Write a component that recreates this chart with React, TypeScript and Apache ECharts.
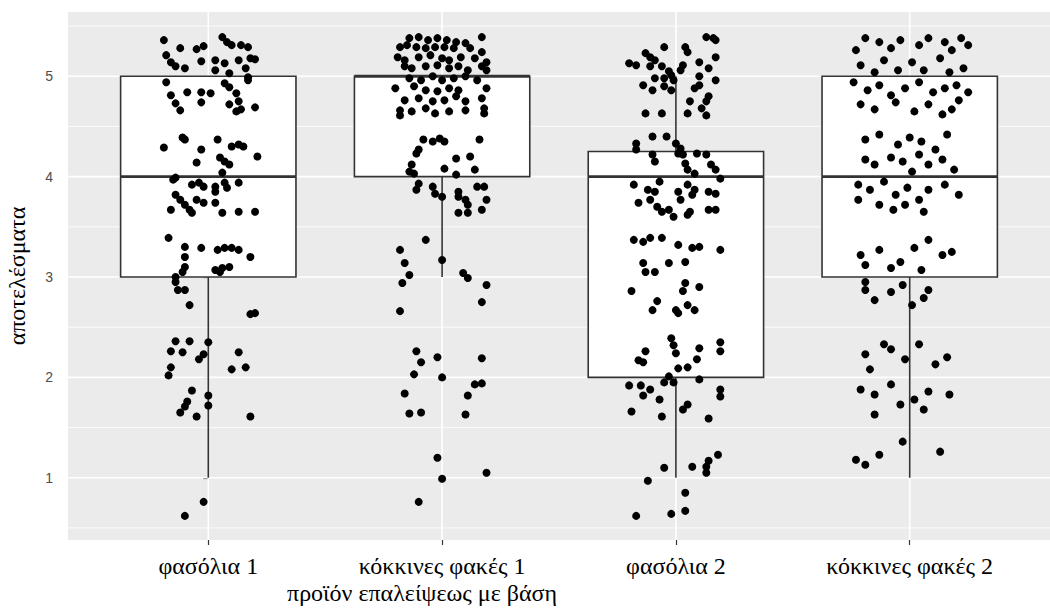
import React, { useEffect, useRef } from "react";
import * as echarts from "echarts";

const categories = ["φασόλια 1", "κόκκινες φακές 1", "φασόλια 2", "κόκκινες φακές 2"];
const xTitle = "προϊόν επαλείψεως με βάση";
const yTitle = "αποτελέσματα";
const yMajor = [1, 2, 3, 4, 5];
const yMinor = [0.5, 1.5, 2.5, 3.5, 4.5, 5.5];

// [category index, lower whisker, q1, median, q3, upper whisker]
const boxStats = [
  [0, 1, 3, 4, 5, 5],
  [1, 3, 4, 5, 5, 5],
  [2, 1, 2, 4, 4.25, 5],
  [3, 1, 3, 4, 5, 5],
];

// jittered points: [horizontal jitter offset, value]
const g1 = [
  [-0.19,5.36],[-0.12,5.28],[-0.05,5.27],[-0.02,5.30],[0.06,5.39],[0.08,5.34],[0.10,5.31],[0.14,5.31],[0.17,5.29],
  [-0.18,5.21],[-0.16,5.14],[-0.14,5.10],[-0.10,5.08],[-0.03,5.15],[0.03,5.16],[0.03,5.06],[0.07,5.13],[0.09,5.03],[0.13,5.16],[0.18,5.18],[0.20,5.17],[0.16,5.08],[0.17,4.99],[0.17,4.96],
  [-0.18,4.94],[-0.16,4.81],[-0.14,4.73],[-0.12,4.66],[-0.09,4.84],[-0.03,4.84],[0.01,4.83],[-0.03,4.74],[0.07,4.93],[0.09,4.89],[0.12,4.83],[0.09,4.72],[0.13,4.75],[0.14,4.67],[0.12,4.65],[0.20,4.69],
  [-0.11,4.39],[-0.10,4.37],[-0.19,4.29],[-0.03,4.27],[0.04,4.37],[0.10,4.30],[0.13,4.32],[0.15,4.30],[-0.05,4.14],[0.05,4.19],[0.07,4.15],[0.09,4.12],[0.21,4.20],[0.06,4.04],
  [-0.15,3.97],[-0.14,3.99],[-0.07,3.92],[-0.04,3.94],[-0.02,3.90],[0.03,3.90],[0.03,3.85],[0.07,3.94],[0.08,3.89],[0.13,3.94],[-0.14,3.82],[-0.12,3.77],[-0.10,3.72],[-0.08,3.67],[-0.07,3.64],[-0.05,3.77],[-0.02,3.74],[0.03,3.74],[-0.16,3.67],[0.06,3.64],[0.13,3.65],[0.20,3.65],
  [-0.17,3.39],[-0.10,3.30],[-0.10,3.20],[-0.10,3.10],[-0.03,3.29],[0.04,3.27],[0.07,3.29],[0.10,3.29],[0.13,3.27],[0.18,3.20],[0.03,3.07],[0.06,3.09],[0.09,3.10],
  [-0.14,3.00],[-0.11,3.05],[-0.14,2.95],[-0.13,2.87],[-0.10,2.87],[0.05,3.05],[-0.08,2.72],[0.18,2.63],[0.20,2.64],
  [-0.14,2.36],[-0.08,2.36],[0.00,2.35],[-0.16,2.26],[-0.11,2.25],[-0.04,2.18],[-0.02,2.23],[0.13,2.25],[-0.16,2.10],[-0.17,2.02],[0.10,2.08],[0.16,2.10],
  [-0.07,1.87],[-0.09,1.76],[-0.10,1.71],[-0.12,1.65],[0.00,1.82],[0.00,1.72],[-0.05,1.61],[0.18,1.61],[-0.02,0.76],[-0.10,0.62],
];

const g2 = [
  [-0.14,5.38],[-0.10,5.39],[-0.06,5.36],[-0.02,5.38],[0.02,5.36],[0.06,5.34],[0.10,5.33],[0.17,5.39],
  [-0.18,5.29],[-0.15,5.31],[-0.11,5.29],[-0.07,5.28],[-0.03,5.29],[0.01,5.29],[0.05,5.28],[0.12,5.28],[0.17,5.24],
  [-0.19,5.19],[-0.16,5.16],[-0.10,5.19],[-0.05,5.21],[0.00,5.18],[0.03,5.16],[0.08,5.19],[0.14,5.18],[0.19,5.14],
  [-0.16,5.10],[-0.13,5.08],[-0.07,5.10],[-0.02,5.11],[0.03,5.08],[0.07,5.10],[0.11,5.06],[0.17,5.10],[0.19,5.06],
  [-0.14,4.98],[-0.09,4.96],[-0.04,5.00],[0.00,4.96],[0.05,4.98],[0.10,5.00],[0.15,4.96],
  [-0.20,4.88],[-0.12,4.90],[-0.07,4.86],[-0.02,4.85],[0.03,4.88],[0.07,4.86],[0.19,4.88],
  [-0.16,4.76],[-0.10,4.78],[-0.04,4.75],[0.01,4.76],[0.06,4.80],[0.10,4.75],[0.17,4.78],
  [-0.18,4.66],[-0.13,4.65],[-0.07,4.68],[-0.03,4.63],[0.03,4.65],[0.10,4.66],[0.18,4.68],[-0.18,4.61],[0.18,4.63],
  [-0.08,4.37],[-0.04,4.35],[-0.01,4.38],[0.01,4.35],[-0.10,4.27],[-0.11,4.23],[0.16,4.37],[0.06,4.18],[0.12,4.20],[-0.13,4.12],[-0.14,4.05],[-0.12,4.03],[0.01,4.08],[0.06,4.02],[0.14,4.07],
  [-0.10,3.93],[-0.11,3.87],[-0.04,3.90],[-0.03,3.83],[0.00,3.80],[0.07,3.85],[0.07,3.80],[0.10,3.77],[0.11,3.72],[0.15,3.90],[0.18,3.90],[0.19,3.77],[0.07,3.64],[0.11,3.64],[0.17,3.67],
  [-0.07,3.37],[-0.18,3.27],[-0.16,3.14],[0.00,3.17],
  [-0.14,3.02],[-0.17,2.94],[0.09,3.04],[0.11,2.99],[0.19,2.92],[0.17,2.75],[-0.18,2.66],[-0.11,2.26],[-0.09,2.15],[-0.02,2.20],[-0.12,2.03],[0.00,2.00],[0.17,2.19],[0.14,1.93],[0.17,1.94],[-0.16,1.84],[0.11,1.82],[-0.14,1.64],[-0.09,1.65],[0.10,1.63],[-0.02,1.20],[0.00,0.99],[0.19,1.05],[-0.10,0.76],
];

const g3 = [
  [0.13,5.39],[0.16,5.38],[0.17,5.36],[-0.05,5.29],[0.04,5.29],[0.05,5.24],[-0.13,5.23],[-0.11,5.19],[-0.09,5.16],[0.17,5.19],[-0.20,5.13],[-0.17,5.11],[-0.11,5.10],[-0.06,5.10],[-0.03,5.05],[0.02,5.06],[0.03,5.11],[0.10,5.14],[0.14,5.08],
  [-0.09,4.98],[-0.05,4.98],[-0.02,5.01],[-0.01,4.96],[0.10,5.00],[0.17,4.96],[-0.14,4.91],[-0.10,4.86],[-0.05,4.90],[-0.02,4.86],[0.08,4.88],[0.10,4.91],[0.06,4.75],[0.14,4.80],[0.13,4.75],[0.11,4.68],[0.13,4.61],[-0.13,4.63],[-0.06,4.63],[0.05,4.63],[-0.10,4.40],[-0.04,4.40],
  [-0.17,4.33],[-0.17,4.27],[-0.10,4.22],[-0.09,4.15],[0.00,4.33],[0.02,4.28],[0.01,4.23],[0.03,4.22],[0.04,4.13],[0.09,4.23],[0.13,4.22],[0.15,4.12],[0.17,4.07],[0.05,4.07],[0.08,4.03],[0.19,3.98],
  [-0.18,3.92],[-0.12,3.87],[-0.07,3.95],[-0.09,3.85],[0.01,3.85],[0.02,3.77],[0.05,3.92],[0.08,3.87],[0.07,3.82],[0.14,3.85],[0.17,3.83],[-0.16,3.74],[-0.11,3.77],[-0.08,3.70],[-0.06,3.65],[-0.03,3.67],[-0.01,3.60],[0.05,3.62],[0.06,3.65],[0.14,3.67],[0.17,3.67],
  [-0.18,3.37],[-0.14,3.35],[-0.11,3.39],[-0.06,3.39],[0.01,3.32],[0.07,3.29],[0.10,3.30],[0.19,3.27],[-0.14,3.14],[-0.03,3.14],[0.04,3.15],
  [-0.13,3.05],[-0.09,3.05],[-0.19,2.86],[0.04,2.94],[0.03,2.86],[0.10,2.90],[-0.08,2.76],[-0.10,2.67],[0.00,2.67],[0.01,2.64],[0.05,2.72],[0.08,2.67],
  [-0.02,2.39],[-0.01,2.32],[0.00,2.24],[-0.13,2.26],[-0.16,2.17],[-0.14,2.15],[0.10,2.29],[0.09,2.18],[0.19,2.35],[0.19,2.26],[0.01,2.09],[0.05,2.10],[-0.03,2.01],[-0.05,1.95],[-0.01,1.95],[0.10,1.98],
  [-0.20,1.92],[-0.15,1.92],[-0.11,1.88],[-0.14,1.82],[-0.07,1.78],[0.19,1.88],[0.19,1.81],[0.05,1.73],[0.03,1.68],[-0.19,1.66],[-0.06,1.61],[0.14,1.59],
  [0.18,1.23],[0.14,1.17],[0.13,1.11],[0.13,1.05],[-0.05,1.10],[0.07,1.11],[-0.12,0.97],[0.04,0.85],[-0.17,0.62],[-0.02,0.64],[0.04,0.67],
];

const g4 = [
  [-0.23,5.26],[-0.19,5.38],[-0.13,5.34],[-0.08,5.28],[-0.04,5.36],[0.04,5.31],[0.08,5.38],[0.15,5.34],[0.18,5.26],[0.22,5.38],[0.25,5.31],
  [-0.21,5.11],[-0.15,5.04],[-0.11,5.16],[-0.05,5.06],[0.01,5.14],[0.06,5.06],[0.13,5.18],[0.17,5.04],[0.23,5.08],
  [-0.24,4.94],[-0.18,4.86],[-0.13,4.91],[-0.08,4.81],[-0.02,4.88],[0.04,4.94],[0.10,4.84],[0.15,4.88],[0.20,4.91],[0.25,4.84],
  [-0.21,4.72],[-0.15,4.67],[-0.06,4.74],[0.02,4.65],[0.08,4.72],[0.14,4.62],[0.21,4.76],[0.18,4.67],
  [-0.19,4.37],[-0.13,4.42],[-0.05,4.32],[0.00,4.39],[0.05,4.35],[0.11,4.27],[0.16,4.42],[-0.19,4.17],[-0.15,4.12],[-0.08,4.19],[-0.03,4.15],[0.04,4.22],[0.08,4.12],[0.14,4.17],[0.19,4.07],[0.01,4.05],
  [-0.22,3.92],[-0.17,3.87],[-0.11,3.95],[-0.06,3.82],[-0.01,3.89],[0.04,3.77],[0.08,3.87],[0.15,3.92],[0.21,3.82],[-0.13,3.72],[-0.07,3.67],[-0.02,3.72],[0.06,3.65],[-0.22,3.77],
  [-0.21,3.22],[-0.19,3.12],[-0.13,3.27],[-0.04,3.15],[0.02,3.29],[0.08,3.37],[0.14,3.22],[0.18,3.25],[0.05,3.07],[-0.08,3.09],
  [-0.19,2.87],[-0.15,2.77],[-0.08,2.85],[-0.03,2.92],[0.01,2.72],[0.06,2.79],[0.08,2.87],[-0.19,2.95],
  [-0.19,2.23],[-0.11,2.33],[-0.08,2.28],[-0.02,2.18],[0.04,2.33],[0.11,2.13],[0.16,2.20],[-0.17,2.08],
  [-0.21,1.88],[-0.15,1.83],[-0.08,1.93],[-0.04,1.73],[0.02,1.78],[0.08,1.86],[0.17,1.83],[0.06,1.68],[-0.15,1.63],
  [-0.13,1.23],[-0.03,1.36],[-0.23,1.18],[-0.19,1.13],[0.13,1.26],
];

const groups = [g1, g2, g3, g4];

const X_MIN = -0.6;
const X_MAX = 3.6;
const Y_MIN = 0.38;
const Y_MAX = 5.64;
const BOX_HALF = 0.375;
const INK = "#333333";
const SERIF = "'Liberation Serif', 'DejaVu Serif', serif";

export default function App() {
  const ref = useRef<HTMLDivElement>(null);
  useEffect(() => {
    if (!ref.current) return;
    const chart = echarts.init(ref.current, null, { renderer: "svg" });

    const lineEl = (a: number[], b: number[], color: string, w: number) => ({
      type: "line",
      shape: { x1: a[0], y1: a[1], x2: b[0], y2: b[1] },
      style: { stroke: color, lineWidth: w },
    });

    const option: any = {
      animation: false,
      backgroundColor: "#ffffff",
      grid: {
        left: 68,
        top: 12,
        width: 1000,
        height: 528,
        show: true,
        backgroundColor: "#EBEBEB",
        borderWidth: 0,
      },
      xAxis: {
        type: "value",
        min: X_MIN,
        max: X_MAX,
        axisLine: { show: false },
        splitLine: { show: false },
        axisTick: {
          show: true,
          customValues: [0, 1, 2, 3],
          length: 5,
          lineStyle: { color: INK, width: 1.2 },
        },
        axisLabel: {
          customValues: [0, 1, 2, 3],
          formatter: (v: number) => categories[Math.round(v)] ?? "",
          color: "#000",
          fontFamily: SERIF,
          fontSize: 24,
          margin: 14,
        },
      },
      yAxis: {
        type: "value",
        min: Y_MIN,
        max: Y_MAX,
        axisLine: { show: false },
        splitLine: { show: false },
        axisTick: {
          show: true,
          customValues: yMajor,
          length: 5,
          lineStyle: { color: INK, width: 1.2 },
        },
        axisLabel: {
          customValues: yMajor,
          formatter: (v: number) => String(v),
          color: "#4D4D4D",
          fontFamily: "'Liberation Sans', Arial, sans-serif",
          fontSize: 14,
          margin: 15,
        },
      },
      graphic: [
        {
          type: "text",
          x: 17,
          y: 276,
          rotation: Math.PI / 2,
          style: {
            text: yTitle,
            fill: "#000",
            fontFamily: SERIF,
            fontSize: 24,
            textAlign: "center",
            textVerticalAlign: "middle",
          },
        },
        {
          type: "text",
          x: 422,
          y: 593,
          style: {
            text: xTitle,
            fill: "#000",
            fontFamily: SERIF,
            fontSize: 24,
            textAlign: "center",
            textVerticalAlign: "middle",
          },
        },
      ],
      series: [
        {
          type: "custom",
          z: 1,
          silent: true,
          data: yMinor.map((v) => [0, v]),
          renderItem: (_p: any, api: any) => {
            const v = api.value(1);
            return lineEl(api.coord([X_MIN, v]), api.coord([X_MAX, v]), "#FFFFFF", 0.8);
          },
        },
        {
          type: "custom",
          z: 1,
          silent: true,
          data: yMajor.map((v) => [0, v]),
          renderItem: (_p: any, api: any) => {
            const v = api.value(1);
            return lineEl(api.coord([X_MIN, v]), api.coord([X_MAX, v]), "#FFFFFF", 1.6);
          },
        },
        {
          type: "custom",
          z: 1,
          silent: true,
          data: categories.map((_c, i) => [i, 3]),
          renderItem: (_p: any, api: any) => {
            const v = api.value(0);
            return lineEl(api.coord([v, Y_MIN]), api.coord([v, Y_MAX]), "#FFFFFF", 1.6);
          },
        },
        {
          type: "custom",
          z: 2,
          silent: true,
          data: boxStats,
          renderItem: (_p: any, api: any) => {
            const x = api.value(0);
            const lo = api.value(1);
            const q1 = api.value(2);
            const med = api.value(3);
            const q3 = api.value(4);
            const hi = api.value(5);
            const tl = api.coord([x - BOX_HALF, q3]);
            const br = api.coord([x + BOX_HALF, q1]);
            const ml = api.coord([x - BOX_HALF, med]);
            const mr = api.coord([x + BOX_HALF, med]);
            const children: any[] = [];
            if (lo < q1) children.push(lineEl(api.coord([x, lo]), api.coord([x, q1]), INK, 1.6));
            if (hi > q3) children.push(lineEl(api.coord([x, q3]), api.coord([x, hi]), INK, 1.6));
            children.push({
              type: "rect",
              shape: { x: tl[0], y: tl[1], width: br[0] - tl[0], height: br[1] - tl[1] },
              style: { fill: "#FFFFFF", stroke: INK, lineWidth: 1.6 },
            });
            children.push(lineEl(ml, mr, INK, 2.8));
            return { type: "group", children };
          },
        },
        ...groups.map((g, i) => ({
          type: "scatter",
          z: 3,
          silent: true,
          symbol: "circle",
          symbolSize: 8,
          itemStyle: { color: "#000000", opacity: 1 },
          data: g.map(([dx, y]) => [i + dx, y]),
        })),
      ],
    };

    chart.setOption(option);
    return () => chart.dispose();
  }, []);

  return (
    <div
      ref={ref}
      style={{ position: "fixed", left: 0, top: 0, width: 1050, height: 609, background: "#fff" }}
    />
  );
}
